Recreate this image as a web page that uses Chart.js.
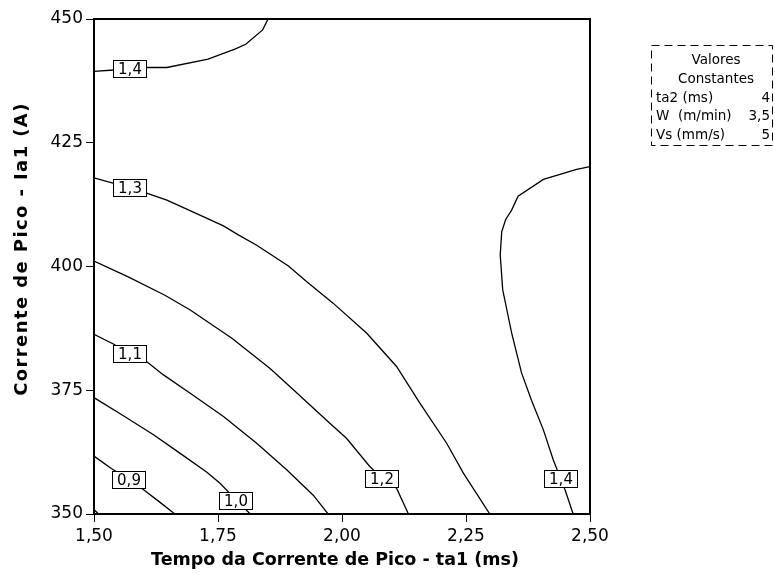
<!DOCTYPE html>
<html>
<head>
<meta charset="utf-8">
<script src="https://cdn.jsdelivr.net/npm/chart.js@4/dist/chart.umd.min.js"></script>
<style>
  html, body { margin: 0; padding: 0; background: #fff; }
  #wrap { position: relative; width: 775px; height: 573px; }
</style>
</head>
<body>
<div id="wrap"><canvas id="graph" width="775" height="573"></canvas></div>
<script>
// contour lines, [ta1 (ms), Ia1 (A)]
const contour08 = [[1.500, 350.9], [1.509, 350]];
const contour09 = [[1.500, 361.7], [1.535, 359.2], [1.571, 356.9], [1.596, 355.2], [1.630, 352.6], [1.663, 350]];
const contour10 = [[1.500, 373.5], [1.552, 370.3], [1.620, 366.0], [1.673, 362.3], [1.727, 358.5], [1.754, 356.2], [1.787, 352.8], [1.815, 350]];
const contour11 = [[1.500, 386.3], [1.540, 384.3], [1.573, 382.3], [1.606, 380.8], [1.640, 378.1], [1.694, 374.4],
                   [1.761, 369.7], [1.828, 364.3], [1.889, 358.9], [1.942, 353.8], [1.972, 350]];
const contour12 = [[1.500, 401.1], [1.569, 397.9], [1.643, 394.2], [1.694, 391.2], [1.778, 385.5], [1.855, 379.4],
                   [1.902, 375.1], [1.976, 368.3], [2.009, 365.3], [2.056, 359.6], [2.080, 357.3], [2.110, 355.2], [2.134, 350]];
const contour13 = [[1.500, 417.9], [1.540, 416.8], [1.573, 415.9], [1.606, 414.8], [1.647, 413.4], [1.687, 411.6],
                   [1.761, 408.2], [1.791, 406.4], [1.828, 404.3], [1.892, 400.1], [1.929, 396.9], [1.982, 392.6],
                   [2.050, 386.5], [2.110, 379.8], [2.157, 372.4], [2.211, 364.3], [2.245, 358.2], [2.298, 350]];
const contour14a = [[1.500, 439.4], [1.540, 439.7], [1.606, 440.2], [1.647, 440.2], [1.730, 441.9], [1.784, 443.9],
                    [1.806, 444.9], [1.840, 447.8], [1.851, 450]];
const contour14b = [[2.500, 420.2], [2.473, 419.6], [2.406, 417.6], [2.355, 414.2], [2.342, 411.4], [2.330, 409.5],
                    [2.322, 407.0], [2.319, 402.3], [2.324, 395.3], [2.342, 386.6], [2.362, 378.5], [2.382, 373.0],
                    [2.406, 367.0], [2.426, 360.9], [2.438, 357.9], [2.450, 354.8], [2.466, 350]];

// contour labels
const labelText = ['1,4', '1,3', '1,1', '0,9', '1,0', '1,2', '1,4'];
const labelX = [1.573, 1.573, 1.573, 1.571, 1.787, 2.080, 2.441];
const labelY = [439.8, 415.9, 382.3, 356.9, 352.6, 357.0, 357.1];

// x and y ticks
const xTicks = [1.5, 1.75, 2.0, 2.25, 2.5];
const yTicks = [350, 375, 400, 425, 450];

// constant values box
const constNames = ['ta2 (ms)', 'W  (m/min)', 'Vs (mm/s)'];
const constValues = ['4', '3,5', '5'];

const xTitle = 'Tempo da Corrente de Pico - ta1 (ms)';
const yTitle = 'Corrente de Pico - Ia1 (A)';

const lines = [contour08, contour09, contour10, contour11, contour12, contour13, contour14a, contour14b];

const FONT = "'DejaVu Sans', Verdana, sans-serif";

const datasets = lines.map(function(pts) {
    return {
        data: pts.map(p => ({ x: p[0], y: p[1] })),
        showLine: true,
        borderColor: '#000',
        borderWidth: 1.3,
        pointRadius: 0,
        tension: 0
    };
});

// frame, contour labels, axis titles and the constants box
const extras = {
    id: 'extras',
    afterDatasetsDraw(chart) {
        const ctx = chart.ctx;
        const a = chart.chartArea;
        const sx = chart.scales.x, sy = chart.scales.y;
        ctx.save();
        ctx.strokeStyle = '#000';
        ctx.lineWidth = 2;
        ctx.strokeRect(a.left, a.top, a.right - a.left, a.bottom - a.top);

        ctx.font = '15px ' + FONT;
        ctx.textAlign = 'center';
        ctx.textBaseline = 'middle';
        ctx.lineWidth = 1;
        for (let i = 0; i < labelText.length; i++) {
            const px = Math.round(sx.getPixelForValue(labelX[i]));
            const py = Math.round(sy.getPixelForValue(labelY[i]));
            ctx.fillStyle = '#fff';
            ctx.fillRect(px - 17, py - 9, 34, 18);
            ctx.strokeRect(px - 16.5, py - 8.5, 33, 17);
            ctx.fillStyle = '#000';
            ctx.fillText(labelText[i], px, py + 1);
        }

        // axis titles
        ctx.font = 'bold 17.5px ' + FONT;
        ctx.fillText(xTitle, 335, 560);
        ctx.save();
        ctx.translate(22, 249);
        ctx.rotate(-Math.PI / 2);
        ctx.font = 'bold 18px ' + FONT;
        ctx.letterSpacing = '1.4px';
        ctx.fillText(yTitle, 0, 0);
        ctx.restore();

        // constants box
        ctx.setLineDash([8, 5]);
        ctx.strokeRect(651.5, 45.5, 121, 100);
        ctx.setLineDash([]);
        ctx.font = '13.5px ' + FONT;
        ctx.fillText('Valores', 716, 60);
        ctx.fillText('Constantes', 716, 79);
        for (let i = 0; i < constNames.length; i++) {
            ctx.textAlign = 'left';
            ctx.fillText(constNames[i], 656, 98 + i * 18.5);
            ctx.textAlign = 'right';
            ctx.fillText(constValues[i], 770, 98 + i * 18.5);
        }
        ctx.restore();
    }
};

const chart = new Chart(document.getElementById('graph').getContext('2d'), {
    type: 'scatter',
    data: { datasets: datasets },
    options: {
        responsive: false,
        animation: false,
        events: [],
        layout: { padding: { left: 0, top: 19, right: 185, bottom: 0 } },
        plugins: { legend: { display: false }, tooltip: { enabled: false } },
        scales: {
            x: {
                type: 'linear', min: 1.5, max: 2.5,
                afterBuildTicks: s => { s.ticks = xTicks.map(v => ({ value: v })); },
                afterFit: s => { s.height = 59; },
                border: { display: false },
                grid: { drawOnChartArea: false, color: '#000', tickLength: 8, tickWidth: 1 },
                ticks: {
                    color: '#000', padding: 4,
                    font: { family: FONT, size: 17 },
                    callback: v => v.toFixed(2).replace('.', ',')
                }
            },
            y: {
                type: 'linear', min: 350, max: 450,
                afterBuildTicks: s => { s.ticks = yTicks.map(v => ({ value: v })); },
                afterFit: s => { s.width = 94; },
                border: { display: false },
                grid: { drawOnChartArea: false, color: '#000', tickLength: 8, tickWidth: 1 },
                ticks: { color: '#000', padding: 3, font: { family: FONT, size: 17 } }
            }
        }
    },
    plugins: [extras]
});
</script>
</body>
</html>
